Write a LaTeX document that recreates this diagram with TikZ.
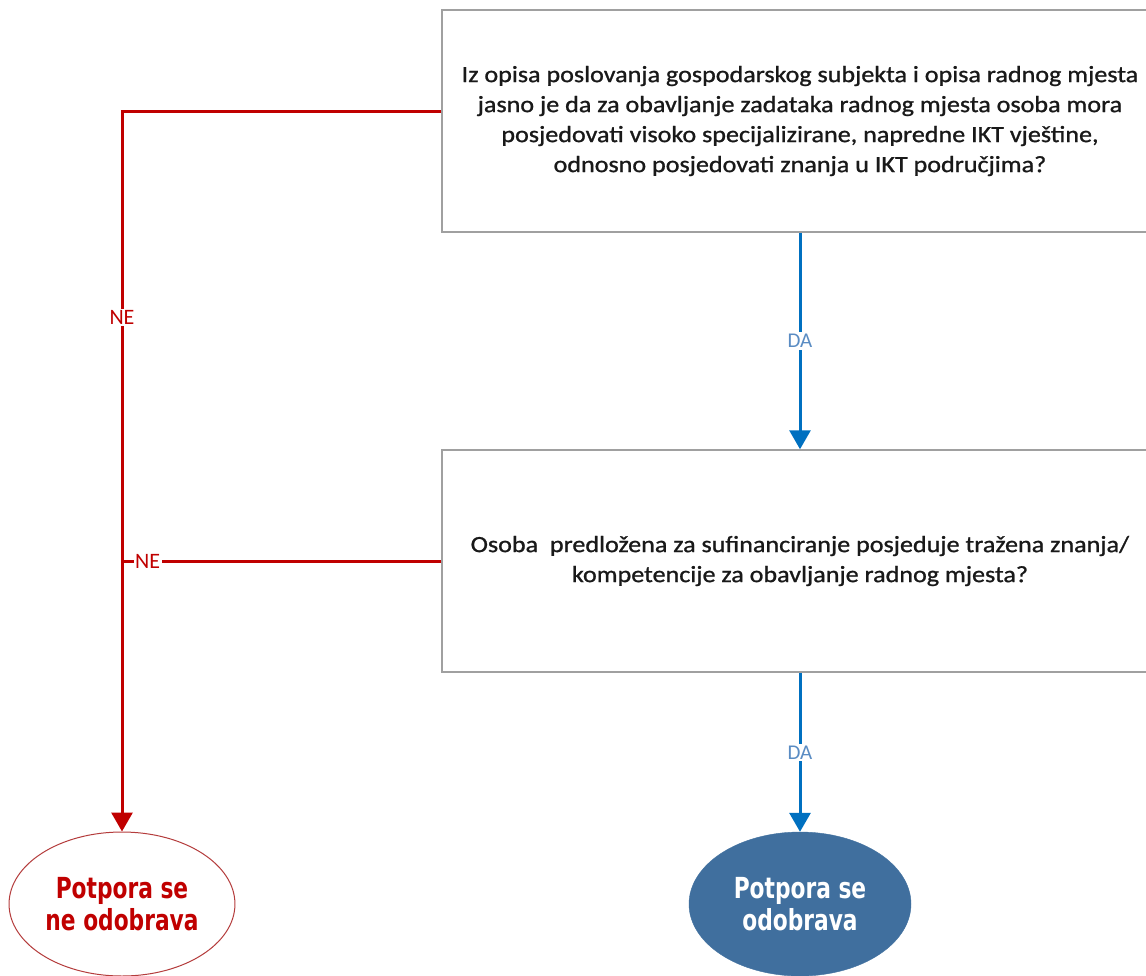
\documentclass[tikz,border=0pt]{standalone}
\usepackage{fontspec}
\setmainfont{Carlito}
\newfontfamily\boxfont[FakeStretch=1.12,FakeBold=1]{Carlito}
\newfontfamily\ellfont[FakeStretch=0.75]{DejaVu Sans}
\usetikzlibrary{arrows.meta,shapes.geometric}
\definecolor{nered}{RGB}{192,0,0}
\definecolor{dablue}{RGB}{0,112,192}
\definecolor{dalabel}{RGB}{90,140,195}
\definecolor{yesfill}{RGB}{64,111,158}
\definecolor{boxgray}{RGB}{160,160,160}
\definecolor{ellred}{RGB}{180,60,60}
\definecolor{txt}{RGB}{25,25,25}
\tikzset{
  qbox/.style={draw=boxgray, line width=1.5pt, fill=white, rectangle,
    minimum width=716pt, minimum height=222pt, align=center, text=txt,
    font=\boxfont\fontsize{23.3}{30}\selectfont},
  noell/.style={ellipse, draw=ellred, line width=1pt, fill=white,
    minimum width=222pt, minimum height=144pt, align=center, text=nered,
    font=\ellfont\bfseries\fontsize{29}{32}\selectfont},
  yesell/.style={ellipse, draw=yesfill, fill=yesfill,
    minimum width=222pt, minimum height=144pt, align=center, text=white,
    font=\ellfont\bfseries\fontsize{29}{32}\selectfont},
  noline/.style={draw=nered, line width=3pt},
  yesline/.style={draw=dablue, line width=3pt},
  tipstyle/.style={-{Triangle[width=21pt,length=19pt]}},
  nelabel/.style={fill=white, inner sep=1.5pt, text=nered, font=\fontsize{22}{24}\selectfont},
  dalab/.style={fill=white, inner sep=2pt, text=dalabel, font=\fontsize{21}{23}\selectfont},
}
\begin{document}
\begin{tikzpicture}[x=1pt,y=-1pt]
\useasboundingbox (0,0) rectangle (1146,975);
\clip (0,0) rectangle (1146,975);
\node[qbox] (q1) at (800,121) {Iz opisa poslovanja gospodarskog subjekta i opisa radnog mjesta\\jasno je da za obavljanje zadataka radnog mjesta osoba mora\\posjedovati visoko specijalizirane, napredne IKT vještine,\\odnosno posjedovati znanja u IKT područjima?};
\node[qbox] (q2) at (800,561) {Osoba\ \ predložena za sufinanciranje posjeduje tražena znanja/\\kompetencije za obavljanje radnog mjesta?};
\node[noell] (no) at (122,904) {Potpora se\\ne odobrava};
\node[yesell] (yes) at (800,904) {Potpora se\\odobrava};
\coordinate (c1) at (122,111);
\draw[noline, tipstyle] (q1.west |- c1) -- (c1) -- node[pos=0.287, nelabel] {NE} (no.north);
\draw[noline] (q2.west) -- node[pos=0.92, nelabel] {NE} (q2.west -| c1);
\draw[yesline, tipstyle] (q1.south) -- node[midway, dalab] {DA} (q2.north);
\draw[yesline, tipstyle] (q2.south) -- node[midway, dalab] {DA} (yes.north);
\end{tikzpicture}
\end{document}
